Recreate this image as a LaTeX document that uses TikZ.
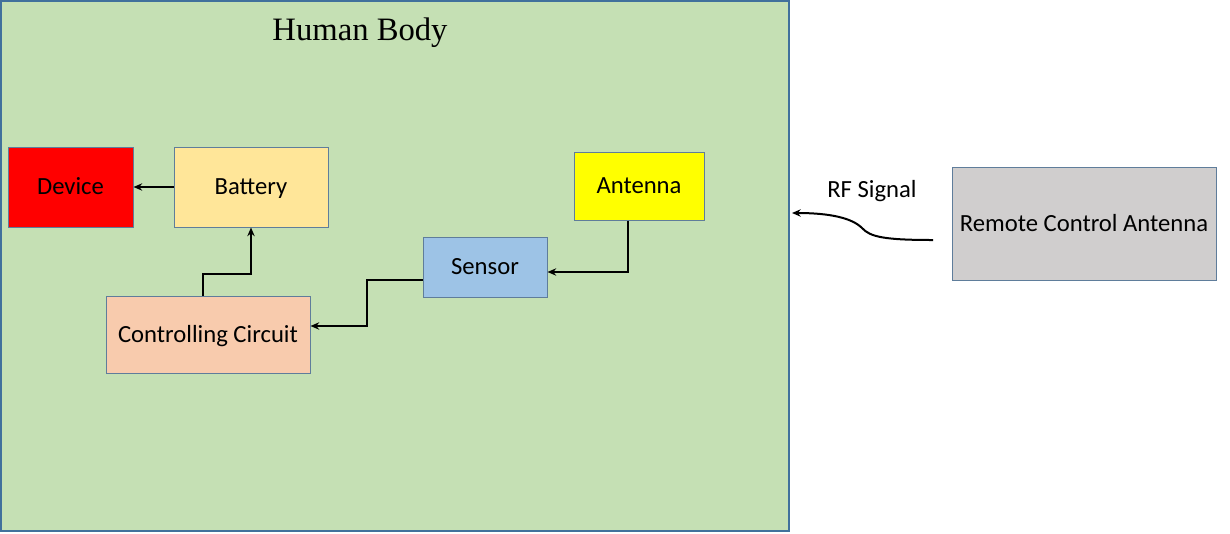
\documentclass[tikz,border=0pt]{standalone}
\usepackage{fontspec}
\setmainfont{Carlito}
\newfontfamily\titlefont{Liberation Serif}
\usepackage{tikz}
\usetikzlibrary{positioning,arrows.meta}
\definecolor{bodygreen}{RGB}{197,224,180}
\definecolor{bodyline}{RGB}{65,113,156}
\definecolor{boxline}{RGB}{95,125,155}
\definecolor{devicered}{RGB}{255,0,0}
\definecolor{batteryyellow}{RGB}{255,230,153}
\definecolor{antennayellow}{RGB}{255,255,0}
\definecolor{sensorblue}{RGB}{157,195,230}
\definecolor{circuitpeach}{RGB}{248,203,173}
\definecolor{remotegray}{RGB}{208,206,206}

\begin{document}
\begin{tikzpicture}[
  x=0.75pt, y=-0.75pt,
  bodybox/.style={rectangle, draw=bodyline, fill=bodygreen, line width=1.5pt,
    inner sep=0pt, minimum width=591pt, minimum height=397.5pt},
  unit/.style={rectangle, draw=boxline, line width=0.75pt, inner sep=0pt,
    text height=14pt, text depth=2.4pt,
    font=\fontsize{18.5}{22}\selectfont, text=black},
  arr/.style={-{Stealth[length=6.5pt,width=5.5pt]}, line width=1.5pt, black},
  wave/.style={-{Stealth[length=6.5pt,width=5.5pt]}, line width=1.5pt, black},
]
  \useasboundingbox (0,0) rectangle (1230,533);

  % === BODY ===
  \node[bodybox] (body) at (395,266) {};
  \node[font=\titlefont\fontsize{24.5}{28}\selectfont] (title) at (360,33) {Human Body};

  % Implant blocks
  \node[unit, fill=devicered, minimum width=93.75pt, minimum height=60pt] (device) at (70.5,187) {Device};
  \node[unit, fill=batteryyellow, minimum width=115.5pt, minimum height=60pt] (battery) at (251,187) {Battery};
  \node[unit, fill=antennayellow, minimum width=97.5pt, minimum height=51pt] (antenna) at (639,186) {Antenna};
  \node[unit, fill=sensorblue, minimum width=93pt, minimum height=45pt] (sensor) at (485,267) {Sensor};
  \node[unit, fill=circuitpeach, minimum width=153pt, minimum height=57.75pt] (circuit) at (208,334.5) {Controlling Circuit};

  % Wiring
  \draw[arr] (battery.west) -- (device.east);
  \draw[arr] (circuit.north -| 203,0) -- (203,274) -| (battery.south);
  \draw[arr] (sensor.west |- 0,280) -| (367,326) -- (circuit.east |- 0,326);
  \draw[arr] (antenna.south -| 628,0) |- (sensor.east |- 0,272);

  % === OUTSIDE ===
  \node[unit, fill=remotegray, minimum width=198pt, minimum height=84.75pt] (remote) at (1084,223.5) {Remote Control Antenna};
  \node[font=\fontsize{18.5}{22}\selectfont] (rflabel) at (872,191) {RF Signal};

  % RF link
  \coordinate (rfstart) at (933,240);
  \coordinate (rfend) at (792,213);
  \draw[wave] (rfstart) .. controls (885,240) and (870,237) .. (862,228)
    .. controls (852,218) and (830,213) .. (rfend);
\end{tikzpicture}
\end{document}
